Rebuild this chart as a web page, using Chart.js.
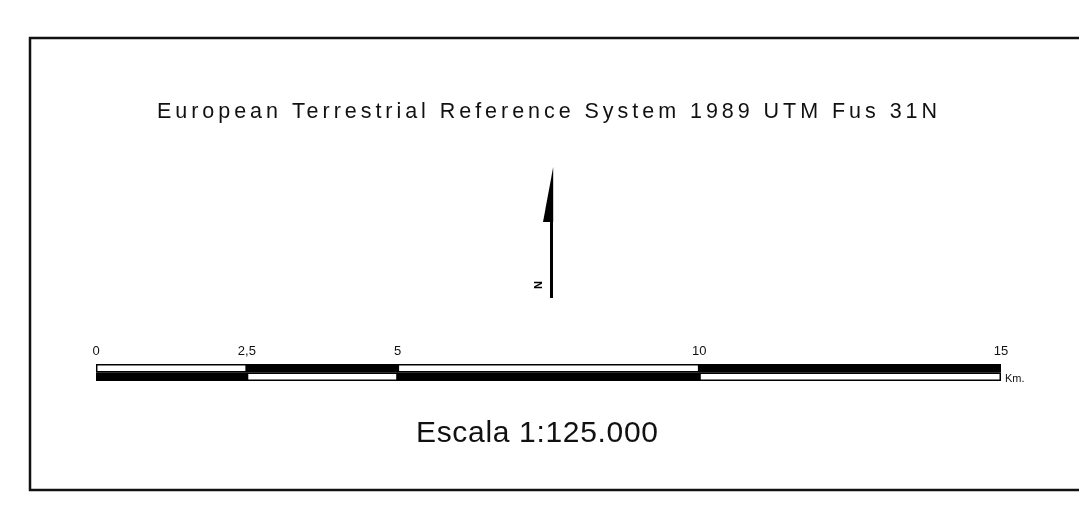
<!DOCTYPE html>
<html>
<head>
<meta charset="utf-8">
<script src="https://cdn.jsdelivr.net/npm/chart.js@4.4.1/dist/chart.umd.min.js"></script>
<style>
  html, body { margin: 0; padding: 0; background: #fff; }
  #wrap { width: 1079px; height: 509px; position: relative; }
</style>
</head>
<body>
<div id="wrap"><canvas id="c" width="1079" height="509"></canvas></div>
<script>
// ---- data ----
const breaks = [0, 2.5, 5, 10, 15];
const tickLabels = ['0', '2,5', '5', '10', '15'];
const rows = ['superior', 'inferior'];
const topFill = ['#ffffff', '#000000', '#ffffff', '#000000'];
const bottomFill = ['#000000', '#ffffff', '#000000', '#ffffff'];
const titleText = 'European Terrestrial Reference System 1989 UTM Fus 31N';
const scaleText = 'Escala 1:125.000';
const unitText = 'Km.';
const northText = 'N';

const FONT = '"Liberation Sans", Arial, Helvetica, sans-serif';

const datasets = [];
for (let i = 0; i < breaks.length - 1; i++) {
  datasets.push({
    label: 'seg' + i,
    data: [[breaks[i], breaks[i + 1]], [breaks[i], breaks[i + 1]]],
    backgroundColor: [topFill[i], bottomFill[i]],
    borderColor: '#000000',
    borderWidth: 1.8,
    borderSkipped: false,
    grouped: false,
    barPercentage: 1,
    categoryPercentage: 1
  });
}

function fitText(ctx, text, size, targetWidth, x, y) {
  ctx.font = size + 'px ' + FONT;
  ctx.letterSpacing = '0px';
  const w = ctx.measureText(text).width;
  const ls = (targetWidth - w) / (text.length - 1);
  ctx.letterSpacing = ls + 'px';
  ctx.textAlign = 'left';
  ctx.textBaseline = 'alphabetic';
  ctx.fillText(text, x, y);
  ctx.letterSpacing = '0px';
}

const decor = {
  id: 'decor',
  afterDraw(chart) {
    const ctx = chart.ctx;
    ctx.save();
    // frame
    ctx.strokeStyle = '#111';
    ctx.lineWidth = 2.5;
    ctx.strokeRect(30, 38, 1100, 452);
    ctx.fillStyle = '#111';
    // title
    fitText(ctx, titleText, 21.5, 780, 157, 118);
    // scale text
    fitText(ctx, scaleText, 30, 242, 416, 442);
    // unit
    ctx.font = '11px ' + FONT;
    ctx.textAlign = 'left';
    ctx.textBaseline = 'alphabetic';
    const xs = chart.scales.x;
    ctx.fillText(unitText, xs.getPixelForValue(breaks[breaks.length - 1]) + 4, 382);
    // north arrow
    ctx.fillStyle = '#000';
    ctx.fillRect(550, 221, 3, 77);
    ctx.beginPath();
    ctx.moveTo(553.2, 167);
    ctx.lineTo(543, 222);
    ctx.lineTo(553.2, 222);
    ctx.closePath();
    ctx.fill();
    // N rotated
    ctx.save();
    ctx.translate(539, 285);
    ctx.rotate(-Math.PI / 2);
    ctx.font = 'bold 11px ' + FONT;
    ctx.textAlign = 'center';
    ctx.textBaseline = 'middle';
    ctx.fillText(northText, 0, 0);
    ctx.restore();
    ctx.restore();
  }
};

new Chart(document.getElementById('c'), {
  type: 'bar',
  data: { labels: rows, datasets },
  options: {
    indexAxis: 'y',
    responsive: false,
    animation: false,
    devicePixelRatio: 1,
    layout: { padding: { left: 96, right: 78, top: 334, bottom: 128 } },
    plugins: { legend: { display: false }, tooltip: { enabled: false }, title: { display: false } },
    scales: {
      x: {
        type: 'linear',
        position: 'top',
        min: breaks[0],
        max: breaks[breaks.length - 1],
        grid: { display: false, drawTicks: false, tickLength: 0 },
        border: { display: false },
        afterBuildTicks(scale) { scale.ticks = breaks.map(v => ({ value: v })); },
        afterFit(scale) { scale.height = 30; },
        ticks: {
          autoSkip: false,
          maxRotation: 0,
          padding: 5,
          color: '#111',
          font: { family: FONT, size: 13 },
          callback: (v) => tickLabels[breaks.indexOf(v)]
        }
      },
      y: {
        display: false,
        grid: { display: false }
      }
    }
  },
  plugins: [decor]
});
</script>
</body>
</html>
